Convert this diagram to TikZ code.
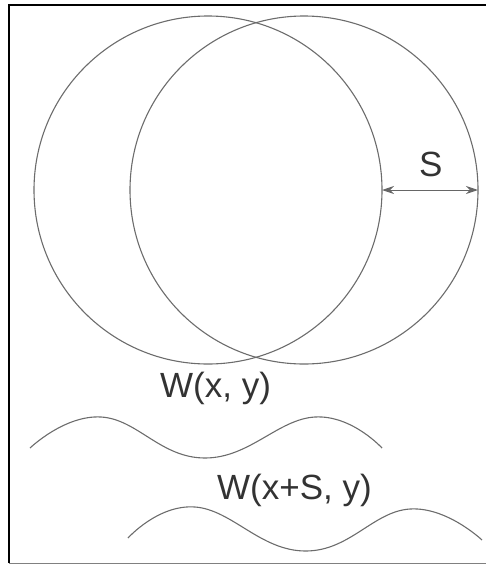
\documentclass[tikz,border=0pt]{standalone}
\usepackage{fontspec}
\setmainfont{Liberation Sans}
\usetikzlibrary{arrows.meta}
\begin{document}
\begin{tikzpicture}[
    x=1pt, y=-1pt,
    ring/.style={circle, draw=gray!85!black, line width=1.1pt, inner sep=0pt, outer sep=0pt, minimum size=348pt},
    wave/.style={draw=gray!85!black, line width=1.1pt},
    lbl/.style={anchor=base west, inner sep=0pt, text=black!80, font=\fontsize{35}{40}\selectfont},
    arrow/.style={line width=1pt, draw=gray!80!black, <->, >={Stealth[length=12pt, width=8pt]}}
]
\useasboundingbox (0,0) rectangle (485,565);
% Frame
\draw [line width=2.5pt] (9,563) -- (9,5) -- (486,5);
\draw [line width=0.8pt, gray] (9,563) -- (486,563);

% Circles
\node (lcirc) [ring] at (208,190) {};
\node (rcirc) [ring] at (304,190) {};

% Labels
\node (shift) [lbl] at (419,176) {S};
\node (wlabel) [lbl] at (160,397) {W(x, y)};
\node (wslabel) [lbl] at (217,499) {W(x+S, y)};

% Arrows
\draw [arrow] (lcirc.east) -- (rcirc.east);

% Waves
\draw [wave] plot [smooth, tension=0.75] coordinates {(30,448) (101,417) (205,458) (315,417) (382,448)};
\draw [wave] plot [smooth, tension=0.75] coordinates {(128,538) (195,507) (305,551) (410,509) (482,540)};

\end{tikzpicture}
\end{document}
